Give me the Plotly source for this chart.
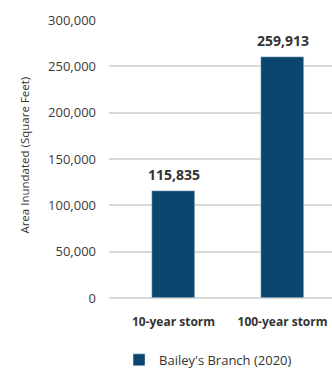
import plotly.graph_objects as go

categories = ["10-year storm", "100-year storm"]
values = [115835, 259913]
series_name = "Bailey's Branch (2020)"
y_ticks = [0, 50000, 100000, 150000, 200000, 250000, 300000]

FONT = "Open Sans"
DARK = "#333333"
BAR = "#0a466e"

fig = go.Figure()
fig.add_trace(go.Bar(
    x=[0, 1], y=values, name=series_name, marker_color=BAR, width=0.394,
    showlegend=True,
))
annotations = [dict(x=i, y=v, xref="x", yref="y", text=f"{v:,}", showarrow=False,
                    yanchor="bottom", yshift=5,
                    font=dict(family=FONT, size=14, color=DARK, weight="bold"))
               for i, v in enumerate(values)]
annotations.append(dict(text="Area Inundated (Square Feet)", xref="paper", yref="paper",
                        x=-0.4215, y=0.514, textangle=-90, showarrow=False,
                        font=dict(family=FONT, size=11.5, color=DARK)))
fig.update_layout(
    width=332, height=371,
    margin=dict(l=109, r=0, t=20, b=73),
    paper_bgcolor="white", plot_bgcolor="white",
    font=dict(family=FONT, color=DARK, size=12),
    bargap=0,
    xaxis=dict(range=[-0.592, 1.454], tickvals=[0, 1], ticktext=categories,
               showgrid=False, zeroline=False, showline=False, ticks="",
               ticklabelstandoff=15,
               tickfont=dict(family=FONT, size=12, color=DARK, weight="bold")),
    yaxis=dict(range=[0, 300000], tickvals=y_ticks, tickformat=",",
               showgrid=True, gridcolor="#d9d9d9", gridwidth=1.5,
               zeroline=True, zerolinecolor="#d9d9d9", zerolinewidth=1.5,
               ticks="", ticklabelstandoff=12,
               tickfont=dict(family=FONT, size=13, color="#3a3a3a")),
    legend=dict(orientation="h", x=0.045, yref="container", y=0.03,
                xanchor="left", yanchor="middle",
                font=dict(family=FONT, size=13, color=DARK)),
    annotations=annotations,
)
fig.write_html("out.html")
